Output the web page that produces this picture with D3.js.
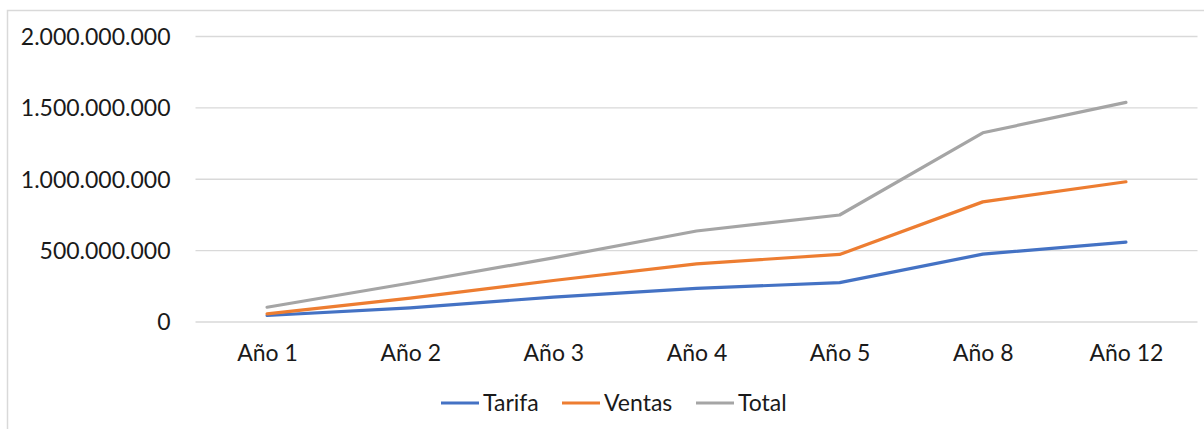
<!DOCTYPE html>
<html lang="en">
<head>
<meta charset="UTF-8">
<script src="https://cdnjs.cloudflare.com/ajax/libs/d3/7.8.5/d3.min.js"></script>
<style>
body{
  margin: 0;
  background-color: #ffffff;
}
text{
  font-family: Lato, "Open Sans", sans-serif;
  fill: #1a1a1a;
}
</style>
</head>
<body>
<div id="main-container"></div>
<script type="text/javascript">
/* global d3 */

// data (values in pesos)
const categories = ['Año 1', 'Año 2', 'Año 3', 'Año 4', 'Año 5', 'Año 8', 'Año 12'];
const tarifa = [42e6, 96e6, 171e6, 232e6, 272e6, 472e6, 556e6];
const ventas = [54e6, 164e6, 287e6, 404e6, 470e6, 838e6, 979e6];
const total  = [100e6, 270e6, 446e6, 634e6, 746e6, 1322e6, 1535e6];
const seriesNames = ['Tarifa', 'Ventas', 'Total'];
const seriesColors = ['#4472C4', '#ED7D31', '#A5A5A5'];
const yTicks = [0, 500e6, 1000e6, 1500e6, 2000e6];

const w = 1204;
const h = 429;

const svg = d3.select('#main-container').append('svg').attr('width', w).attr('height', h);

// chart area frame
svg.append('rect').attr('x', 7.5).attr('y', 10.5).attr('width', 1210).attr('height', 440)
   .attr('fill', 'none').attr('stroke', '#d9d9d9').attr('stroke-width', 1.5);

const xScale = d3.scalePoint().domain(categories).range([195.5, 1197.5]).padding(0.5);
const yScale = d3.scaleLinear().domain([0, 2000e6]).range([321.5, 36]);

// thousands with dots, like the spanish excel format
const fmt = d3.formatLocale({decimal: ',', thousands: '.', grouping: [3], currency: ['$', '']}).format(',.0f');

// gridlines + y labels
const yAxis = d3.axisLeft(yScale).tickValues(yTicks).tickFormat(fmt).tickSize(-(1197.5 - 195.5)).tickPadding(25);
const gy = svg.append('g').attr('transform', 'translate(195.5,0)').call(yAxis);
gy.select('.domain').remove();
gy.selectAll('line').attr('stroke', '#d9d9d9').attr('stroke-width', 1.3);
gy.selectAll('text').style('font-size', '23px').attr('dy', '0.36em');

// x labels
const xAxis = d3.axisBottom(xScale).tickSize(0).tickPadding(23);
const gx = svg.append('g').attr('transform', 'translate(0,321.5)').call(xAxis);
gx.select('.domain').remove();
gx.selectAll('text').style('font-size', '23px');

// lines
const seriesData = [tarifa, ventas, total];
const line = d3.line().x((d, i) => xScale(categories[i])).y(d => yScale(d));
svg.selectAll('.series').data(seriesData).enter().append('path')
   .attr('class', 'series')
   .attr('d', d => line(d))
   .attr('fill', 'none')
   .attr('stroke', (d, i) => seriesColors[i])
   .attr('stroke-width', 3.2)
   .attr('stroke-linejoin', 'round')
   .attr('stroke-linecap', 'round');

// legend
const legendX = [441, 562, 696];
const legend = svg.selectAll('.legend').data(seriesNames).enter().append('g')
   .attr('class', 'legend')
   .attr('transform', (d, i) => 'translate(' + legendX[i] + ',403)');
legend.append('line').attr('x1', 0).attr('x2', 38).attr('y1', 0).attr('y2', 0)
   .attr('stroke', (d, i) => seriesColors[i]).attr('stroke-width', 3.2);
legend.append('text').attr('x', 42).attr('dy', '0.36em').style('font-size', '23px').text(d => d);
</script>
</body>
</html>
